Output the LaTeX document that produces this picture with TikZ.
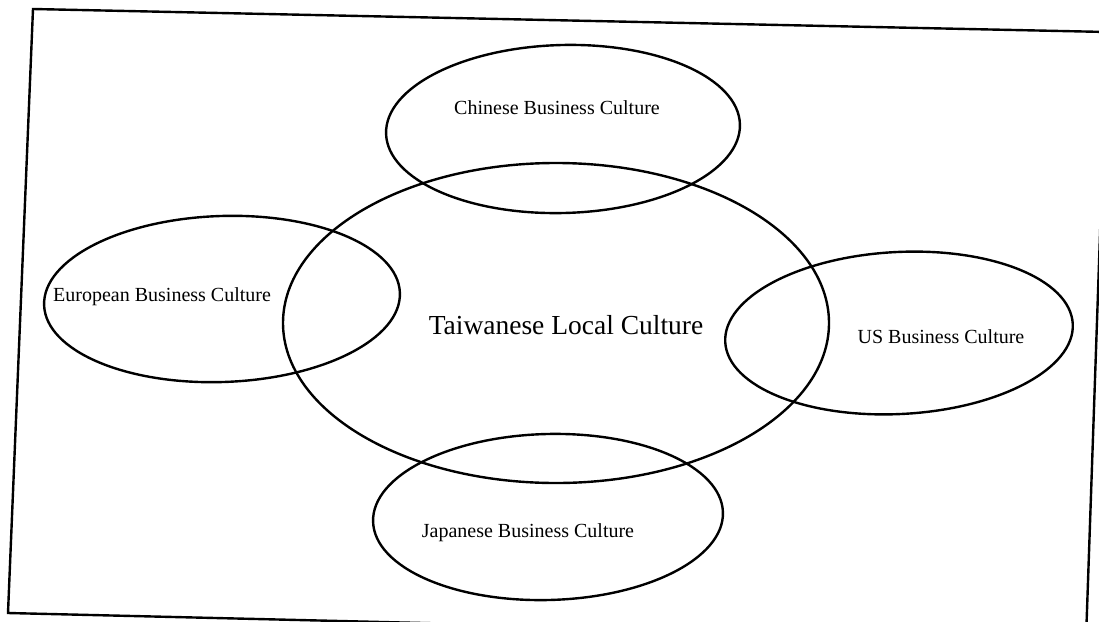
\documentclass[tikz,border=0pt]{standalone}
\usepackage{fontspec}
\setmainfont{Liberation Serif}
\usetikzlibrary{shapes.geometric}
\tikzset{
  line/.style={line width=2.4pt, black},
  bubble/.style={draw, line width=2.4pt, ellipse, inner sep=0pt},
  lab/.style={font=\fontsize{20}{22}\selectfont, inner sep=0pt},
  biglab/.style={font=\fontsize{27.5}{30}\selectfont, inner sep=0pt}
}
\begin{document}
\begin{tikzpicture}[x=1pt,y=-1pt]
\useasboundingbox (0,0) rectangle (1099,621);
\fill[white] (0,0) rectangle (1099,621);
\begin{scope}
\clip (0,0) rectangle (1099,621);
% frame
\coordinate (tl) at (33,9);
\coordinate (tr) at (1107,32);
\coordinate (br) at (1086,639);
\coordinate (bl) at (8,613);
\draw[line, line join=miter] (tl) -- (tr) -- (br) -- (bl) -- cycle;
\end{scope}
% ellipses
\node[bubble, minimum width=546pt, minimum height=320pt] (tw) at (556,323) {};
\node[bubble, minimum width=354pt, minimum height=168pt, rotate=1.5] (cn) at (563,129) {};
\node[bubble, minimum width=356pt, minimum height=166pt, rotate=2] (eu) at (222,299) {};
\node[bubble, minimum width=348pt, minimum height=162pt, rotate=3] (us) at (899,333) {};
\node[bubble, minimum width=350pt, minimum height=166pt, rotate=1.5] (jp) at (548,517) {};
% labels
\node[lab] (cnt) at (557,108) {Chinese Business Culture};
\node[lab, anchor=west] (eut) at (53,297) {European Business Culture};
\node[lab] (ust) at (941,337) {US Business Culture};
\node[lab] (jpt) at (528,533) {Japanese Business Culture};
\node[biglab] (twt) at (566,325) {Taiwanese Local Culture};
\end{tikzpicture}
\end{document}
